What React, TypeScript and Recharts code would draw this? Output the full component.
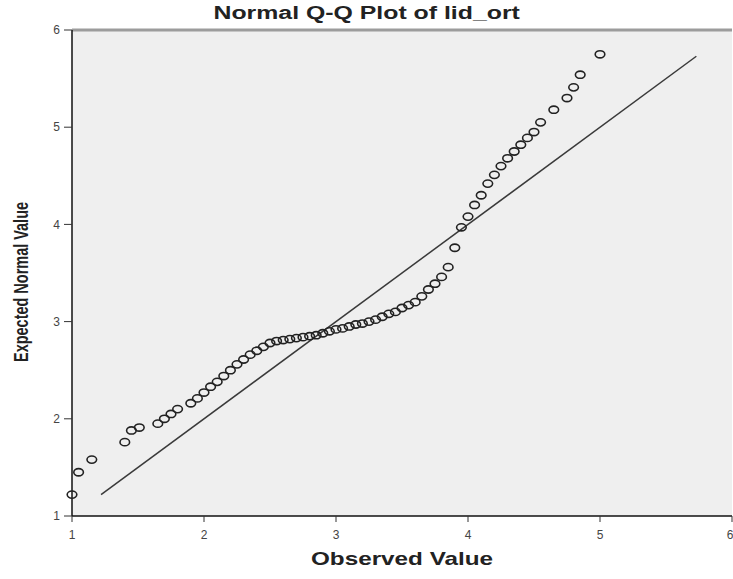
import React from 'react'
import {
  ScatterChart,
  Scatter,
  XAxis,
  YAxis,
  ReferenceArea,
  ReferenceLine,
  Label,
} from 'recharts'

const observed = [
  1.0, 1.05, 1.15, 1.4, 1.45, 1.51, 1.65, 1.7, 1.75, 1.8, 1.9, 1.95, 2.0, 2.05, 2.1, 2.15, 2.2,
  2.25, 2.3, 2.35, 2.4, 2.45, 2.5, 2.55, 2.6, 2.65, 2.7, 2.75, 2.8, 2.85, 2.9, 2.95, 3.0, 3.05,
  3.1, 3.15, 3.2, 3.25, 3.3, 3.35, 3.4, 3.45, 3.5, 3.55, 3.6, 3.65, 3.7, 3.75, 3.8, 3.85, 3.9,
  3.95, 4.0, 4.05, 4.1, 4.15, 4.2, 4.25, 4.3, 4.35, 4.4, 4.45, 4.5, 4.55, 4.65, 4.75, 4.8, 4.85,
  5.0,
]
const expected = [
  1.22, 1.45, 1.58, 1.76, 1.88, 1.91, 1.95, 2.0, 2.05, 2.1, 2.16, 2.21, 2.27, 2.33, 2.38, 2.44,
  2.5, 2.56, 2.61, 2.66, 2.7, 2.74, 2.78, 2.8, 2.81, 2.82, 2.83, 2.84, 2.85, 2.86, 2.88, 2.9,
  2.92, 2.93, 2.95, 2.97, 2.98, 3.0, 3.02, 3.05, 3.08, 3.1, 3.14, 3.17, 3.2, 3.26, 3.33, 3.39,
  3.46, 3.56, 3.76, 3.97, 4.08, 4.2, 4.3, 4.42, 4.51, 4.6, 4.68, 4.75, 4.82, 4.89, 4.95, 5.05,
  5.18, 5.3, 5.41, 5.54, 5.75,
]
const axisTicks = [1, 2, 3, 4, 5, 6]
const lineEnds = [1.22, 5.73]

const qqPoints = observed.map((x, i) => ({ x, y: expected[i] }))

const FONT = '"Liberation Sans", Arial, sans-serif'

// hollow ellipse marker, a bit wider than tall like the SPSS export
const RingDot = (props: any) => {
  const { cx, cy } = props
  if (cx == null || cy == null) return null
  return <ellipse cx={cx} cy={cy} rx={4.8} ry={3.6} fill="none" stroke="#222" strokeWidth={1.6} />
}

const XTitle = (props: any) => {
  const vb = props.viewBox || {}
  return (
    <text
      x={vb.x + vb.width / 2}
      y={vb.y + 49}
      textAnchor="middle"
      fontFamily={FONT}
      fontWeight="bold"
      fontSize={19}
      fill="#222"
      textLength={182}
      lengthAdjust="spacingAndGlyphs"
    >
      Observed Value
    </text>
  )
}

const YTitle = () => (
  <text
    transform="translate(28, 282) rotate(-90) scale(1, 1.3)"
    textAnchor="middle"
    fontFamily={FONT}
    fontWeight="bold"
    fontSize={15}
    fill="#222"
    textLength={160}
    lengthAdjust="spacingAndGlyphs"
  >
    Expected Normal Value
  </text>
)

export default function App() {
  return (
    <div style={{ position: 'absolute', left: 0, top: 0, width: 733, height: 579, background: '#fff' }}>
      <div
        style={{
          position: 'absolute',
          left: 0,
          top: 3,
          width: 733,
          textAlign: 'center',
          fontFamily: FONT,
          fontWeight: 'bold',
          fontSize: 18,
          color: '#222',
          transform: 'scaleX(1.38)',
          transformOrigin: '366px 0',
        }}
      >
        Normal Q-Q Plot of lid_ort
      </div>
      <ScatterChart width={733} height={579} margin={{ top: 30, right: 1, bottom: 0, left: 0 }}>
        <ReferenceArea x1={1} x2={6} y1={1} y2={6} fill="#efefef" fillOpacity={1} stroke="none" />
        <XAxis
          type="number"
          dataKey="x"
          domain={[1, 6]}
          ticks={axisTicks}
          height={63}
          tickSize={6}
          tickMargin={8}
          axisLine={{ stroke: '#111', strokeWidth: 1.5 }}
          tickLine={{ stroke: '#333' }}
          tick={{ fontSize: 12, fill: '#444', fontFamily: FONT }}
        >
          <Label content={<XTitle />} />
        </XAxis>
        <YAxis
          type="number"
          dataKey="y"
          domain={[1, 6]}
          ticks={axisTicks}
          width={72}
          tickSize={8}
          tickMargin={4}
          axisLine={{ stroke: '#111', strokeWidth: 1.5 }}
          tickLine={{ stroke: '#333' }}
          tick={{ fontSize: 12, fill: '#444', fontFamily: FONT }}
        >
          <Label content={<YTitle />} />
        </YAxis>
        <ReferenceLine y={6} stroke="#9c9c9c" strokeWidth={3} />
        <ReferenceLine
          segment={[
            { x: lineEnds[0], y: lineEnds[0] },
            { x: lineEnds[1], y: lineEnds[1] },
          ]}
          stroke="#3a3a3a"
          strokeWidth={1.5}
        />
        <Scatter data={qqPoints} shape={<RingDot />} isAnimationActive={false} />
      </ScatterChart>
    </div>
  )
}
